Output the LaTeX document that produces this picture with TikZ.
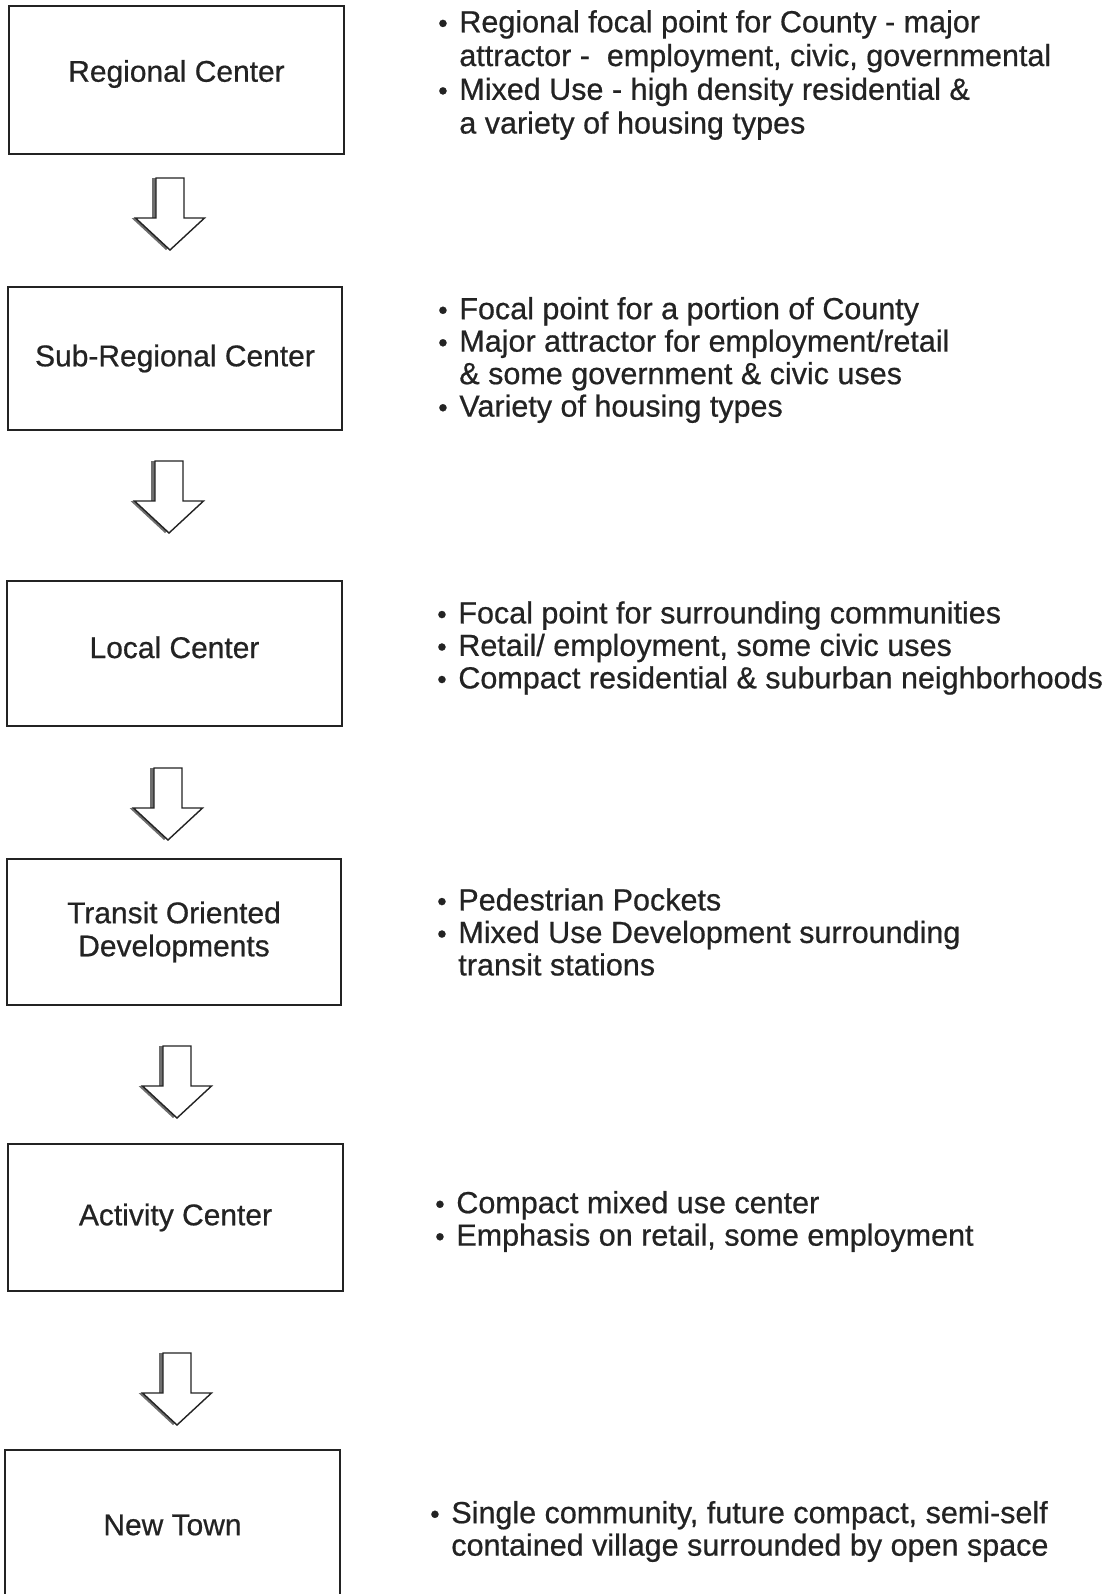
\documentclass[tikz,border=0pt]{standalone}
\usepackage{fontspec}
\setmainfont{Liberation Sans}
\newfontfamily\escaneo{Liberation Sans}[FakeBold=0.6]
\usepackage{tikz}
\usetikzlibrary{positioning}
\definecolor{Tinta}{RGB}{35,35,35}
\definecolor{Sombra}{RGB}{110,110,110}
\newcommand{\bul}{\makebox[15pt][l]{\fontsize{19}{19}\selectfont\textbullet}}
\newcommand{\ind}{\hspace*{15pt}}

\begin{document}
\begin{tikzpicture}[x=0.025cm, y=-0.025cm,
        caja/.style={draw=Tinta, line width=1.4pt, minimum width=8.35cm, inner sep=0pt, align=center, text=Tinta, font=\escaneo\fontsize{21.3}{23.5}\selectfont},
        texto/.style={anchor=west, inner sep=0pt, align=left, text=Tinta, font=\escaneo\fontsize{21.7}{23.1}\selectfont},
        flecha/.style={draw=Tinta, line width=1pt, fill=white, line join=miter},
        sombra/.style={fill=Sombra, draw=none}
    ]
        % Marco de la hoja (1 unidad = 1 px del original)
        \clip (0,0) rectangle (1116,1594);
        \fill[white] (0,0) rectangle (1116,1594);

        % Cajas de la jerarquia de centros
        \node[caja, minimum height=3.7cm, text depth=13pt] (regional) at (176.5,80) {Regional Center};
        \node[caja, minimum height=3.575cm] (subregional) at (175,358.5) {Sub-Regional Center};
        \node[caja, minimum height=3.625cm, text depth=9pt] (local) at (174.5,653.5) {Local Center};
        \node[caja, minimum height=3.65cm] (tod) at (174,932) {Transit Oriented\\Developments};
        \node[caja, minimum height=3.675cm] (activity) at (175.5,1217.5) {Activity Center};
        % La ultima caja queda cortada por el borde inferior
        \node[caja, minimum height=3.75cm] (newtown) at (172.5,1525) {New Town};

        % Flechas de bloque entre cajas (punta en x/y), con sombra a la izquierda
        \foreach \x/\y in {170/250, 169/533, 168/840, 177/1118, 177/1425} {
            \fill[sombra] (\x-4,\y) -- (\x-38.5,\y-32) -- (\x-18,\y-32) -- (\x-18,\y-72) -- (\x+10,\y-72) -- (\x+10,\y-32) -- (\x+30.5,\y-32) -- cycle;
            \draw[flecha] (\x,\y) -- (\x-34.5,\y-32) -- (\x-14,\y-32) -- (\x-14,\y-72) -- (\x+14,\y-72) -- (\x+14,\y-32) -- (\x+34.5,\y-32) -- cycle;
        }

        % Descripciones a la derecha de cada caja
        \node[texto, font=\escaneo\fontsize{21.7}{24}\selectfont] (txtregional) at (438,75) {\bul Regional focal point for County - major\\ \ind attractor -\ \ employment, civic, governmental\\ \bul Mixed Use - high density residential \&\\ \ind a variety of housing types};
        \node[texto] (txtsubregional) at (438,360) {\bul Focal point for a portion of County\\ \bul Major attractor for employment/retail\\ \ind \& some government \& civic uses\\ \bul Variety of housing types};
        \node[texto] (txtlocal) at (437,648) {\bul Focal point for surrounding communities\\ \bul Retail/ employment, some civic uses\\ \bul Compact residential \& suburban neighborhoods};
        \node[texto] (txttod) at (437,932) {\bul Pedestrian Pockets\\ \bul Mixed Use Development surrounding\\ \ind transit stations};
        \node[texto] (txtactivity) at (435,1221.5) {\bul Compact mixed use center\\ \bul Emphasis on retail, some employment};
        \node[texto] (txtnewtown) at (430,1531.5) {\bul Single community, future compact, semi-self\\ \ind contained village surrounded by open space};
    \end{tikzpicture}
\end{document}
